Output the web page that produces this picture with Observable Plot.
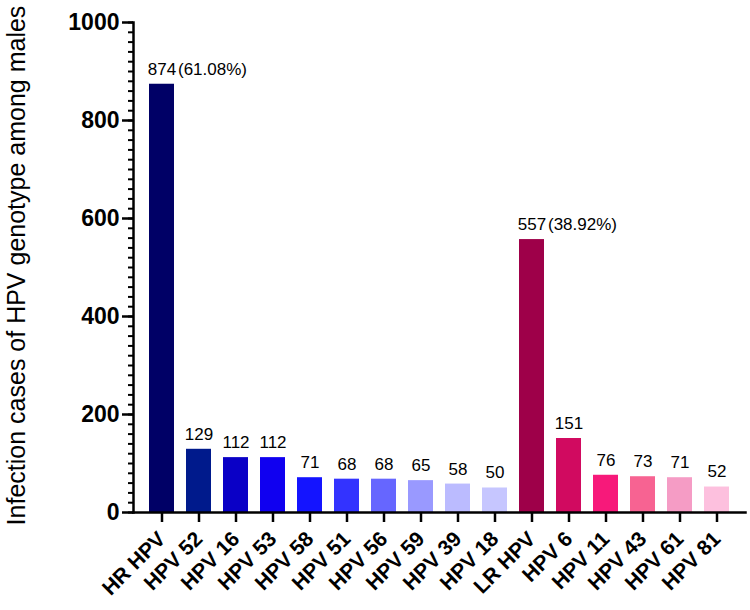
<!DOCTYPE html>
<html>
<head>
<meta charset="utf-8">
<script src="https://cdn.jsdelivr.net/npm/d3@7"></script>
<script src="https://cdn.jsdelivr.net/npm/@observablehq/plot@0.6"></script>
<style>
  html, body { margin: 0; padding: 0; background: #fff; }
</style>
</head>
<body>
<div id="chart"></div>
<script>
const categories = ["HR HPV","HPV 52","HPV 16","HPV 53","HPV 58","HPV 51","HPV 56","HPV 59","HPV 39","HPV 18","LR HPV","HPV 6","HPV 11","HPV 43","HPV 61","HPV 81"];
const values = [874,129,112,112,71,68,68,65,58,50,557,151,76,73,71,52];
const colors = ["#000066","#001a8c","#0a00c6","#1000f0","#1414ff","#3333ff","#6666ff","#9999ff","#bbbbff","#c6c6ff","#9e0049","#d10a60","#f7197a","#f76392","#f59cc5","#fdc0de"];
const percents = [{name:"HR HPV", value:874, pct:"(61.08%)"},{name:"LR HPV", value:557, pct:"(38.92%)"}];
const yMajorTicks = [0,200,400,600,800,1000];
const yMinorTicks = d3.range(0, 1001, 20);
const yTitle = "Infection cases of HPV genotype among males";

const data = categories.map((c,i)=>({name:c, value:values[i], color:colors[i]}));

const chart = Plot.plot({
  width: 750,
  height: 610,
  marginLeft: 133,
  marginTop: 22,
  marginBottom: 98,
  marginRight: 5,
  style: {fontFamily: "Liberation Sans, Arial, sans-serif", color: "#000", background: "#fff"},
  x: {domain: categories, padding: 0.33, align: 0.5, label: null},
  y: {domain: [0,1000], label: null},
  color: {type: "identity"},
  marks: [
    Plot.barY(data, {x:"name", y:"value", fill:"color"}),
    Plot.text(data, {x:"name", y:"value", text: d=>String(d.value), dy:-15, fontSize:17, fill:"#000"}),
    Plot.text(percents, {x:"name", y:"value", text:"pct", dx:16, dy:-15, textAnchor:"start", fontSize:17, fill:"#000"}),
    Plot.axisY({ticks: yMinorTicks, tickSize: 5, text: null, strokeWidth: 2, label: null}),
    Plot.axisY({ticks: yMajorTicks, tickSize: 11, strokeWidth: 2.5, fontSize: 23, fontWeight: "bold", tickPadding: 3, tickFormat: "d", label: null}),
    Plot.axisX({tickSize: 10, strokeWidth: 2.5, tickRotate: -45, fontSize: 21, fontWeight: "bold", tickPadding: 13, label: null}),
    Plot.text([yTitle], {frameAnchor: "left", rotate: -90, textAnchor: "middle", dx: -117, dy: -2, fontSize: 25, fill: "#000"}),
    Plot.frame({anchor: "left", strokeWidth: 2.5}),
    Plot.frame({anchor: "bottom", strokeWidth: 2.5})
  ]
});
document.getElementById("chart").appendChild(chart);
</script>
</body>
</html>
